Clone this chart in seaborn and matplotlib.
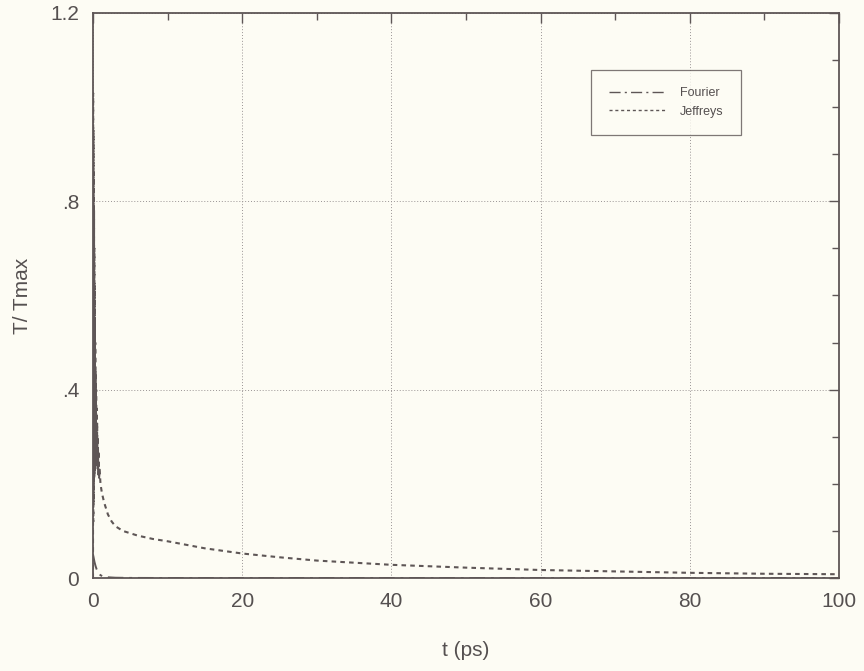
import matplotlib
matplotlib.use("Agg")
import matplotlib.pyplot as plt
import seaborn as sns
import pandas as pd
from matplotlib.ticker import MultipleLocator, FixedLocator

# Fourier response: quick drop to zero
t_fourier = [0.0, 0.1, 0.2, 0.35, 0.5, 0.7, 1.0, 1.4, 2.0, 3.0, 5.0, 10.0, 20.0, 40.0, 60.0, 80.0, 100.0]
T_fourier = [0.05, 0.042, 0.034, 0.025, 0.018, 0.011, 0.006, 0.003, 0.0015, 0.0006, 0.0002, 0.0, 0.0, 0.0, 0.0, 0.0, 0.0]

# Jeffreys response: damped oscillation near t=0, then slow decay
t_jeffreys = [0.0, 0.02, 0.04, 0.06, 0.08, 0.10, 0.12, 0.14, 0.16, 0.18,
              0.20, 0.22, 0.24, 0.26, 0.28, 0.30, 0.33, 0.36, 0.39, 0.42,
              0.45, 0.48, 0.52, 0.56, 0.60, 0.65, 0.70, 0.75, 0.80, 0.90,
              1.0, 1.2, 1.5, 2.0, 2.5, 3.0, 4.0, 5.0, 6.0, 8.0,
              10.0, 12.0, 15.0, 20.0, 25.0, 30.0, 40.0, 50.0, 60.0, 70.0,
              80.0, 90.0, 100.0]
T_jeffreys = [0.0, 1.03, 0.12, 0.95, 0.16, 0.86, 0.19, 0.78, 0.21, 0.70,
              0.22, 0.62, 0.23, 0.55, 0.24, 0.50, 0.25, 0.44, 0.25, 0.40,
              0.25, 0.36, 0.24, 0.33, 0.23, 0.30, 0.22, 0.27, 0.21, 0.23,
              0.20, 0.18, 0.16, 0.135, 0.12, 0.11, 0.10, 0.095, 0.09, 0.083,
              0.078, 0.072, 0.063, 0.052, 0.044, 0.037, 0.028, 0.022, 0.017, 0.014,
              0.011, 0.009, 0.008]

x_ticks = [0, 20, 40, 60, 80, 100]
x_labels = ["0", "20", "40", "60", "80", "100"]
y_ticks = [0, 0.4, 0.8, 1.2]
y_labels = ["0", ".4", ".8", "1.2"]

bg = "#fdfcf4"
ink = "#5e5656"
text_col = "#555050"

sns.set_theme(style="white")
plt.rcParams["font.family"] = ["Liberation Sans", "DejaVu Sans"]

fig = plt.figure(figsize=(8.64, 6.71), dpi=100, facecolor=bg)
ax = fig.add_axes([93 / 864, 1 - 578 / 671, (839 - 93) / 864, (578 - 13) / 671])
ax.set_facecolor(bg)

df_f = pd.DataFrame({"t": t_fourier, "T": T_fourier})
df_j = pd.DataFrame({"t": t_jeffreys, "T": T_jeffreys})

sns.lineplot(data=df_f, x="t", y="T", ax=ax, color=ink, lw=1.4,
             linestyle=(0, (8, 3, 1.5, 3)), label="Fourier")
sns.lineplot(data=df_j, x="t", y="T", ax=ax, color=ink, lw=1.5,
             linestyle=(0, (2.2, 2.0)), label="Jeffreys")

ax.set_xlim(0, 100)
ax.set_ylim(0, 1.2)
ax.xaxis.set_major_locator(FixedLocator(x_ticks))
ax.yaxis.set_major_locator(FixedLocator(y_ticks))
ax.set_xticklabels(x_labels)
ax.set_yticklabels(y_labels)
ax.xaxis.set_minor_locator(MultipleLocator(10))
ax.yaxis.set_minor_locator(MultipleLocator(0.1))

ax.grid(True, which="major", color="#9a9494", linestyle=(0, (1, 2)), lw=0.7)
ax.tick_params(which="both", direction="in", top=True, right=True,
               colors=ink, labelcolor=text_col, labelsize=15, pad=10)
ax.tick_params(which="major", length=7, width=1.0)
ax.tick_params(which="minor", length=5, width=1.0)
for s in ax.spines.values():
    s.set_color(ink)
    s.set_linewidth(1.3)

ax.set_xlabel("t (ps)", fontsize=15, color=text_col, labelpad=22)
ax.set_ylabel("T/ Tmax", fontsize=15, color=text_col)
ax.yaxis.set_label_coords(-0.082, 0.5)

leg = ax.legend(loc="upper left", bbox_to_anchor=((591 - 93) / 746, 1 - (70 - 13) / 565),
                frameon=True, fancybox=False, fontsize=9, handlelength=4.5,
                borderpad=1.4, labelspacing=0.5, handletextpad=1.2, borderaxespad=0)
leg.get_frame().set_edgecolor(ink)
leg.get_frame().set_facecolor(bg)
leg.get_frame().set_linewidth(0.9)
for txt in leg.get_texts():
    txt.set_color(text_col)
for ln in leg.get_lines():
    ln.set_linewidth(1.0)

fig.savefig("out.png", dpi=100, facecolor=bg)
